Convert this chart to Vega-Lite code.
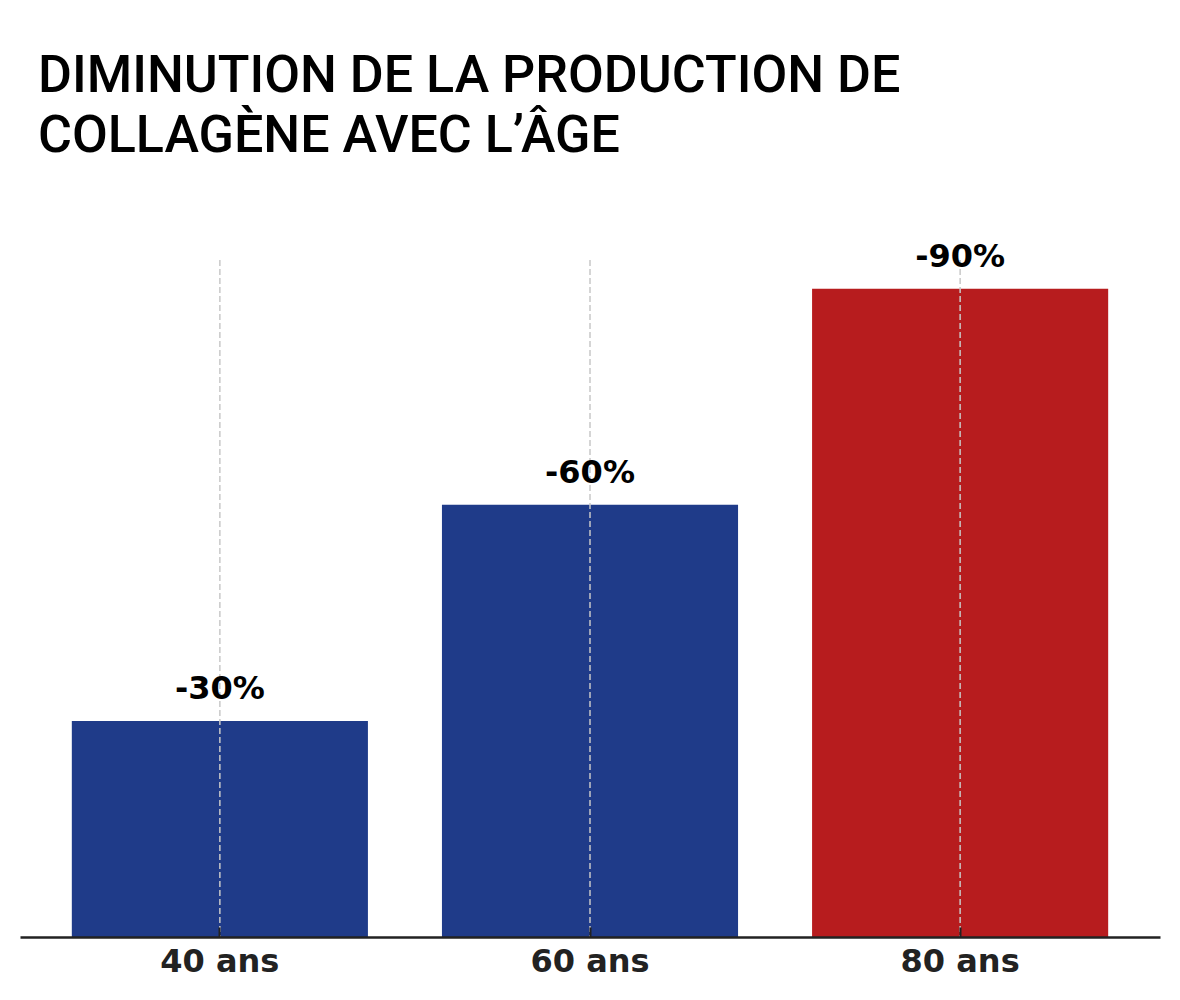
{
  "$schema": "https://vega.github.io/schema/vega-lite/v6.json",
  "width": 1140,
  "height": 677,
  "autosize": "none",
  "padding": {"left": 20, "top": 260, "right": 20, "bottom": 63},
  "background": "white",
  "config": {"view": {"stroke": null}},
  "title": {
    "text": ["DIMINUTION DE LA PRODUCTION DE", "COLLAGÈNE AVEC L’ÂGE"],
    "anchor": "start",
    "frame": "group",
    "font": "Roboto",
    "fontSize": 52,
    "fontWeight": 500,
    "color": "#000000",
    "dx": 18,
    "offset": 78,
    "lineHeight": 60
  },
  "data": {
    "values": [
      {"age": "40 ans", "value": 30, "label": "-30%", "group": "a"},
      {"age": "60 ans", "value": 60, "label": "-60%", "group": "a"},
      {"age": "80 ans", "value": 90, "label": "-90%", "group": "b"}
    ]
  },
  "encoding": {
    "x": {
      "field": "age",
      "type": "nominal",
      "sort": null,
      "scale": {"paddingInner": 0.2, "paddingOuter": 0.14},
      "axis": {
        "title": null,
        "labelAngle": 0,
        "labelFont": "DejaVu Sans",
        "labelFontWeight": "bold",
        "labelFontSize": 32,
        "labelColor": "#222222",
        "labelPadding": 19,
        "domainColor": "#222222",
        "domainWidth": 2.5,
        "tickColor": "#222222",
        "tickWidth": 2,
        "tickSize": -10,
        "grid": false,
        "zindex": 1
      }
    }
  },
  "layer": [
    {
      "mark": {"type": "bar"},
      "encoding": {
        "y": {
          "field": "value",
          "type": "quantitative",
          "scale": {"domain": [0, 94], "nice": false},
          "axis": null
        },
        "color": {
          "field": "group",
          "type": "nominal",
          "scale": {"domain": ["a", "b"], "range": ["#1F3B89", "#B71C1E"]},
          "legend": null
        }
      }
    },
    {
      "mark": {"type": "rule", "color": "#c8c8c8", "strokeDash": [6, 3], "strokeWidth": 1.5},
      "encoding": {}
    },
    {
      "mark": {
        "type": "text",
        "font": "DejaVu Sans",
        "fontWeight": "bold",
        "fontSize": 32,
        "dy": -22,
        "baseline": "alphabetic",
        "color": "#000000"
      },
      "encoding": {
        "y": {"field": "value", "type": "quantitative"},
        "text": {"field": "label"}
      }
    }
  ]
}
